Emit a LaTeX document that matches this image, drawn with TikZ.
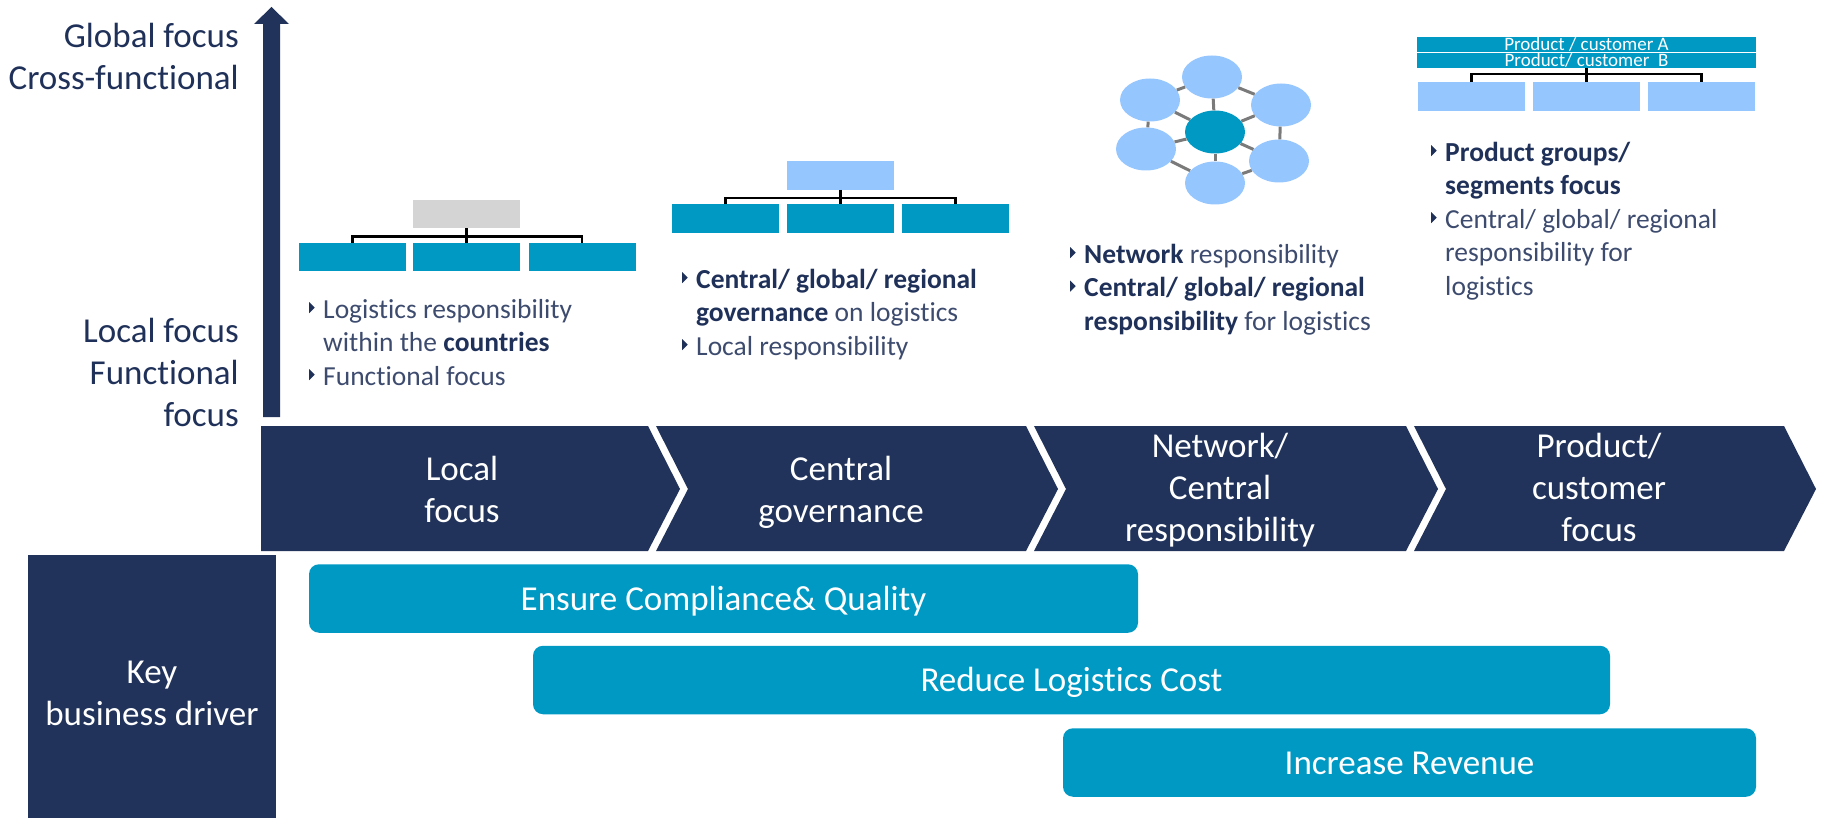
\documentclass[tikz,border=0pt]{standalone}
\usepackage{fontspec}
\setmainfont{Carlito}[Ligatures=NoCommon]
\usepackage{tikz}
\usetikzlibrary{positioning}
\usetikzlibrary{shapes.geometric}

\definecolor{stagenavy}{HTML}{21335B}
\definecolor{driverblue}{HTML}{0099C4}
\definecolor{orgsky}{HTML}{95C6FE}
\definecolor{orggrey}{HTML}{D4D4D4}
\definecolor{linkgrey}{HTML}{7A7A7A}
\definecolor{labelnavy}{HTML}{1F3059}
\definecolor{bodyslate}{HTML}{3D4B6E}

\newcommand{\tri}{\makebox[14pt][l]{\tikz[baseline=0pt]\fill[labelnavy] (0pt,5pt) -- (0pt,16pt) -- (5.5pt,10.5pt) -- cycle;}}
\newcommand{\bulind}{\hspace*{14pt}}
\newcommand{\boldpart}[1]{\textbf{\color{labelnavy}#1}}

\begin{document}
\begin{tikzpicture}[x=1pt,y=-1pt]
  \tikzset{orgbox/.style = {shape=rectangle,minimum width=107pt,minimum height=28.5pt,inner sep=0pt}}
    \tikzset{tealorg/.style = {orgbox,fill=driverblue}}
    \tikzset{skyorg/.style = {orgbox,fill=orgsky}}
    \tikzset{greyorg/.style = {orgbox,fill=orggrey}}
  \tikzset{prodbar/.style = {shape=rectangle,minimum width=339pt,minimum height=15pt,inner sep=0pt,fill=driverblue,text=white,font=\fontsize{19}{19}\selectfont,text height=13pt,text depth=0pt}}
  \tikzset{bracket/.style = {draw=black,line width=2.2pt}}
  \tikzset{hub/.style = {shape=ellipse,minimum width=60pt,minimum height=43pt,inner sep=0pt,fill=orgsky}}
  \tikzset{link/.style = {draw=linkgrey,line width=3pt}}
  \tikzset{stage/.style = {fill=stagenavy}}
  \tikzset{stagetext/.style = {anchor=north,align=center,inner sep=0pt,text=white,font=\fontsize{35}{42}\selectfont}}
  \tikzset{axislabel/.style = {anchor=north east,align=right,inner sep=0pt,text=labelnavy,font=\fontsize{35}{42}\selectfont}}
  \tikzset{bullettext/.style = {anchor=north west,align=left,inner sep=0pt,text=bodyslate,font=\fontsize{27.5}{33.5}\selectfont}}
  \tikzset{driver/.style = {shape=rectangle,rounded corners=10pt,fill=driverblue,text=white,minimum height=68.5pt,text height=23pt,text depth=0pt,font=\fontsize{35}{42}\selectfont}}

  \useasboundingbox (0,0) rectangle (1824,818);

	% focus axis
	\fill[stagenavy] (263,417) -- (263,24) -- (254,24) -- (271.5,7) -- (289,24) -- (280,24) -- (280,417) -- cycle;
	\node[axislabel] (globallab) at (239,17.6) {\strut Global focus\\Cross-functional};
	\node[axislabel] (locallab) at (239,312.6) {\strut Local focus\\Functional\\focus};

	% stages
	\fill[stage] (261,426) -- (648,426) -- (680,489) -- (648,551) -- (261,551) -- cycle;
    \foreach \l/\r in {656/1026, 1034/1406, 1414/1784}
    \fill[stage] (\l,426) -- (\r,426) -- (\r+32,489) -- (\r,551) -- (\l,551) -- (\l+32,489) -- cycle;

	\node[stagetext] (localst) at (462,450.6) {\strut Local\\focus};
	\node[stagetext] (centralst) at (841,450.6) {\strut Central\\governance};
	\node[stagetext] (networkst) at (1220,427.6) {\strut Network/\\Central\\responsibility};
	\node[stagetext] (productst) at (1599,427.6) {\strut Product/\\customer\\focus};

	% business drivers
	\node[fill=stagenavy,minimum width=248pt,minimum height=263pt,inner sep=0pt] (key) at (152,686.5) {};
	\node[stagetext] (keytxt) at (152,653.6) {\strut Key\\business driver};

	\node[driver,minimum width=829pt] (comply) at (723.5,598.5) {Ensure Compliance\& Quality};
	\node[driver,minimum width=1077pt] (cost) at (1071.5,680) {Reduce Logistics Cost};
	\node[driver,minimum width=693pt] (revenue) at (1409.5,762.5) {Increase Revenue};

	% local organisation
	\node[greyorg] (g0) at (466.5,214) {};
	\node[tealorg] (g1) at (352.5,257) {};
	\node[tealorg] (g2) at (466.5,257) {};
	\node[tealorg] (g3) at (582,257) {};
	\draw[bracket] (g1.north) -- ++(0,-6) -| (g3.north);
	\draw[bracket] (g0.south) -- (g2.north);
	\node[bullettext] (localtxt) at (309,294.5) {\strut\tri Logistics responsibility\\\bulind within the \boldpart{countries}\\\tri Functional focus};

	% central organisation
	\node[skyorg] (c0) at (840.5,175.5) {};
	\node[tealorg] (c1) at (725.5,218.5) {};
	\node[tealorg] (c2) at (840.5,218.5) {};
	\node[tealorg] (c3) at (955.5,218.5) {};
	\draw[bracket] (c1.north) -- ++(0,-6) -| (c3.north);
	\draw[bracket] (c0.south) -- (c2.north);
	\node[bullettext] (centraltxt) at (682,264.5) {\strut\tri\boldpart{Central/ global/ regional}\\\bulind\boldpart{governance} on logistics\\\tri Local responsibility};

	% network
	\node[hub] (nt) at (1212,77) {};
	\node[hub] (nul) at (1150,100) {};
	\node[hub] (nur) at (1281,105) {};
	\node[hub,fill=driverblue] (nc) at (1215,132) {};
	\node[hub] (nll) at (1146,149) {};
	\node[hub] (nlr) at (1279,161) {};
	\node[hub] (nb) at (1215,183) {};
    \foreach \from/\to in {nt/nul, nt/nur, nul/nll, nur/nlr, nll/nb, nlr/nb, nc/nt, nc/nul, nc/nur, nc/nll, nc/nlr, nc/nb}
    \path[link] (\from) edge (\to);
	\node[bullettext] (networktxt) at (1070,239.5) {\strut\tri\boldpart{Network} responsibility\\\tri\boldpart{Central/ global/ regional}\\\bulind\boldpart{responsibility} for logistics};

	% product organisation
	\node[prodbar] (pa) at (1586.5,44.5) {Product / customer A};
	\node[prodbar] (pb) at (1586.5,60.5) {Product/ customer~ B};
	\node[skyorg] (p1) at (1471.5,96.5) {};
	\node[skyorg] (p2) at (1586.5,96.5) {};
	\node[skyorg] (p3) at (1701.5,96.5) {};
	\draw[bracket] (p1.north) -- ++(0,-8) -| (p3.north);
	\draw[bracket] (pb.south) -- (p2.north);
	\node[bullettext] (producttxt) at (1431,137.5) {\strut\tri\boldpart{Product groups/}\\\bulind\boldpart{segments focus}\\\tri Central/ global/ regional\\\bulind responsibility for\\\bulind logistics};

\end{tikzpicture}
\end{document}
